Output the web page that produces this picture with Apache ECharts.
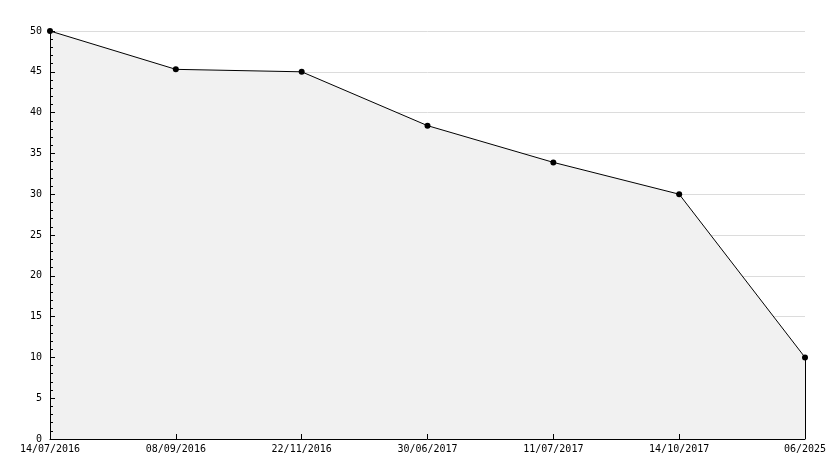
<!DOCTYPE html>
<html><head><meta charset="utf-8">
<script src="https://cdn.jsdelivr.net/npm/echarts@6/dist/echarts.min.js"></script>
<style>html,body{margin:0;padding:0;background:#fff}#c{width:834px;height:468px}</style>
</head><body><div id="c"></div>
<script>
const categories = ['14/07/2016','08/09/2016','22/11/2016','30/06/2017','11/07/2017','14/10/2017','06/2025'];
const values = [50, 45.3, 45.0, 38.4, 33.9, 30.0, 10.0];
const yMin = 0, yMax = 50, yStep = 5;

const chart = echarts.init(document.getElementById('c'));
const font = 'DejaVu Sans Mono';
chart.setOption({
  animation: false,
  backgroundColor: '#fff',
  grid: {left: 50, right: 29, top: 31, bottom: 29, containLabel: false},
  xAxis: {
    type: 'category', data: categories, boundaryGap: false, z: 10,
    axisLine: {lineStyle: {color: '#000', width: 1}},
    axisTick: {inside: true, length: 5, lineStyle: {color: '#000'}},
    axisLabel: {color: '#000', fontFamily: font, fontSize: 10, margin: 5, interval: 0},
    splitLine: {show: false}
  },
  yAxis: [{
    type: 'value', min: yMin, max: yMax, interval: yStep, z: 0,
    axisLine: {show: false}, axisTick: {show: false}, axisLabel: {show: false},
    splitLine: {show: true, lineStyle: {color: '#dcdcdc', width: 1}}
  }, {
    type: 'value', min: yMin, max: yMax, interval: yStep, z: 10, position: 'left',
    axisLine: {show: true, lineStyle: {color: '#000', width: 1}},
    axisTick: {show: true, inside: true, length: 5, lineStyle: {color: '#000'}},
    minorTick: {show: true, splitNumber: 5, length: 3, lineStyle: {color: '#000'}},
    axisLabel: {color: '#000', fontFamily: font, fontSize: 10, margin: 8},
    splitLine: {show: false}
  }],
  series: [{
    type: 'line', data: values, z: 2, yAxisIndex: 0,
    symbol: 'circle', symbolSize: 6,
    itemStyle: {color: '#000'},
    lineStyle: {color: '#000', width: 1},
    areaStyle: {color: '#f1f1f1', opacity: 1},
    markLine: {
      silent: true, symbol: ['none','none'], label: {show: false},
      lineStyle: {color: '#000', width: 1, type: 'solid'},
      data: [[{coord: [categories[categories.length-1], values[values.length-1]]}, {coord: [categories[categories.length-1], yMin]}]]
    }
  }]
});
</script></body></html>
